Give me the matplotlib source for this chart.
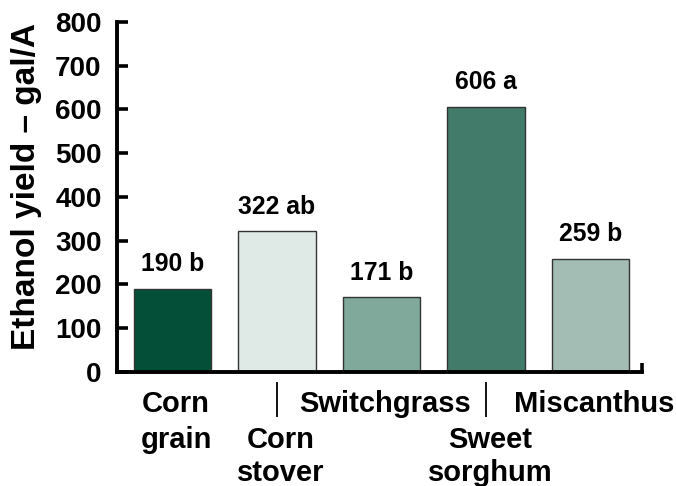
import matplotlib.pyplot as plt
import numpy as np

# crop yields
crops = ["Corn grain", "Corn stover", "Switchgrass", "Sweet sorghum", "Miscanthus"]
label_lines = [["Corn", "grain"], ["Corn", "stover"], ["Switchgrass"],
               ["Sweet", "sorghum"], ["Miscanthus"]]
label_row = [0, 1, 0, 1, 0]
yields = [190, 322, 171, 606, 259]
letters = ["b", "ab", "b", "a", "b"]
bar_colors = ["#034f37", "#dfe9e5", "#80a89b", "#427b69", "#a3bdb5"]
y_ticks = [0, 100, 200, 300, 400, 500, 600, 700, 800]

plt.rcParams['font.family'] = ['Liberation Sans', 'DejaVu Sans']
plt.rcParams['font.weight'] = 'bold'

fig = plt.figure(figsize=(6.76, 4.86), dpi=100)
ax = fig.add_axes([0.1731, 0.2346, 0.7766, 0.7202])

x = np.arange(len(crops))
ax.bar(x, yields, width=0.74, color=bar_colors, edgecolor='#333333',
       linewidth=1.0, zorder=2)

# value + significance letter above each bar
for xi, v, let in zip(x, yields, letters):
    ax.annotate(f"{v} {let}", xy=(xi, v), xytext=(0, 12.5),
                textcoords='offset points', ha='center', va='baseline',
                fontsize=17.8, fontweight='bold')

# category labels, staggered on two levels
row_base = [28.8, 54.7, 78.5]  # baselines in points below the axis
for xi, lines, r in zip(x, label_lines, label_row):
    for k, line in enumerate(lines):
        ax.annotate(line, xy=(xi + 0.035, 0), xytext=(0, -row_base[r + k]),
                    textcoords='offset points', ha='center', va='baseline',
                    fontsize=21, fontweight='bold', annotation_clip=False)
    if r == 1:
        # leader line from the staggered label up towards the axis
        ax.plot([xi, xi], [-0.029, -0.128], transform=ax.get_xaxis_transform(),
                color='black', lw=1.3, clip_on=False, solid_capstyle='butt')

ax.set_xlim(-0.53, 4.49)
ax.set_ylim(0, 800)
ax.set_yticks(y_ticks)
ax.set_xticks([4.49])
ax.set_xticklabels([''])

for side in ['top', 'right']:
    ax.spines[side].set_visible(False)
for side in ['left', 'bottom']:
    ax.spines[side].set_linewidth(2.8)
    ax.spines[side].set_capstyle('projecting')

ax.tick_params(axis='y', direction='in', length=8, width=2.6, pad=11,
               labelsize=20)
ax.tick_params(axis='x', direction='in', length=6.5, width=2.6)
for lab in ax.get_yticklabels():
    lab.set_fontweight('bold')

fig.text(27 / 676, 1 - 186 / 486, "Ethanol yield \u2013 gal/A", rotation=90,
         ha='center', va='center', fontsize=24, fontweight='bold')

fig.savefig('out.png', dpi=100)
